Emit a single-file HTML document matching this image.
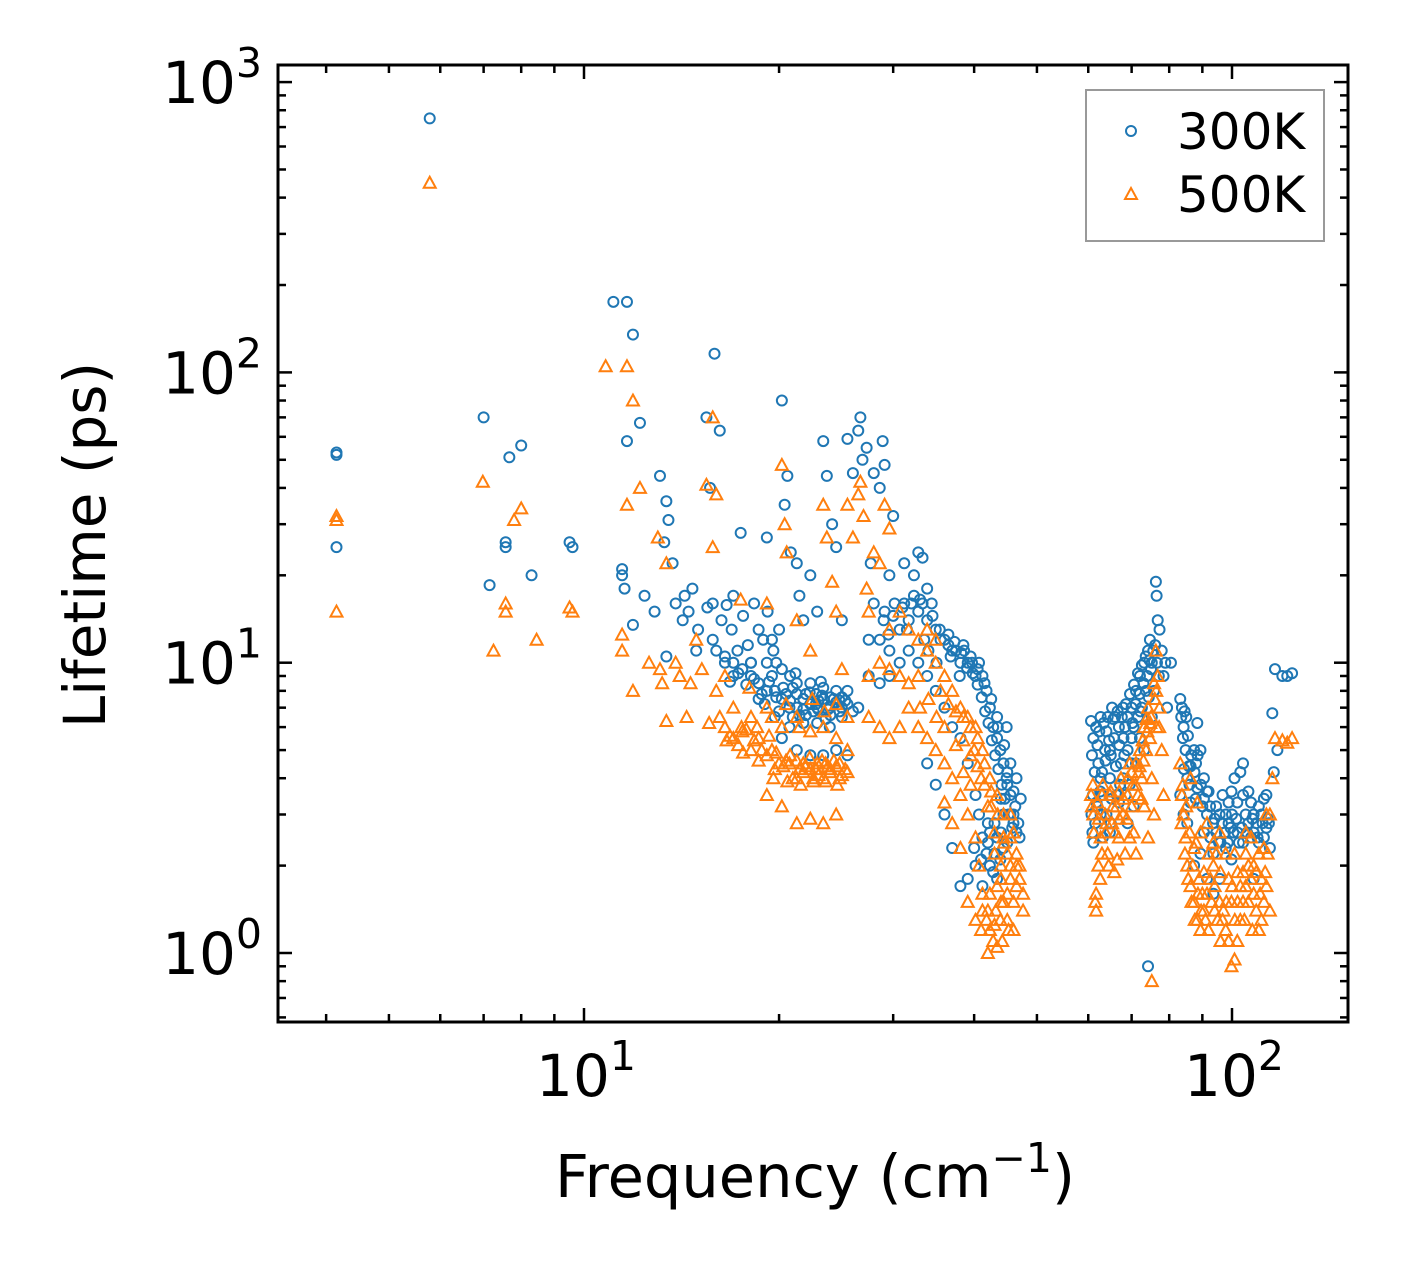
<!DOCTYPE html>
<html><head><meta charset="utf-8">
<style>
html,body{margin:0;padding:0;background:#fff;}
svg{display:block;font-family:"DejaVu Sans","Liberation Sans",sans-serif;}
</style></head>
<body>
<svg id="chart" width="1408" height="1271" viewBox="0 0 1408 1271" xmlns="http://www.w3.org/2000/svg">
<rect x="0" y="0" width="1408" height="1271" fill="#fff"/>
<g id="marks"></g>
<g id="axes"></g>
<g>
<rect x="1086" y="90" width="238" height="151" fill="#fff" stroke="#999" stroke-width="2"/>
<circle cx="1131" cy="131" r="5" fill="none" stroke="#1f77b4" stroke-width="2"/>
<text x="1177" y="149" font-size="50">300K</text>
<polygon points="1131,188 1137,199 1125,199" fill="none" stroke="#ff7f0e" stroke-width="2"/>
<text x="1177" y="212" font-size="50">500K</text>
</g>
<text x="815" y="1197" font-size="59" text-anchor="middle">Frequency (cm<tspan dy="-25" font-size="41">−1</tspan><tspan dy="25">)</tspan></text>
<text transform="translate(105,545) rotate(-90)" font-size="58" text-anchor="middle">Lifetime (ps)</text>
</svg>
<script>
const xTicks = [10, 100];
const yTicks = [1, 10, 100, 1000];
const xTickLabels = ["1", "2"];
const yTickLabels = ["0", "1", "2", "3"];
const data300 = [
[4.15,53],[4.15,52],[4.15,25],[5.78,750],[7.0,70],[7.15,18.5],[7.57,26],[7.57,25],[7.67,51],[8.0,56],[8.3,20],[9.5,26],[9.6,25],
[11.1,175],[11.65,175],[11.9,135],[11.45,21],[11.45,20],[11.55,18],[11.9,13.5],[11.65,58],[12.2,67],[12.4,17],[12.85,15],[13.1,44],
[13.4,36],[13.5,31],[13.4,10.5],[13.3,26],[13.7,22],[13.85,16],[14.3,17],[14.5,15],[14.7,18],[14.9,11],[15.45,70],[15.65,40],[15.9,116],
[15.8,16],[16.2,63],[16.3,14],[16.5,10],[17,17],[17.25,11],[17.45,28],[18.1,10],[18.6,13],[19.15,27],[19.5,12],[19.8,10],[20.2,80],
[20.4,35],[20.6,44],[20.85,24],[21.3,22],[21.5,17],[21.8,14],[22.35,20],[22.9,15],[23.4,58],[23.7,44],[24.15,30],[24.5,25],[25,14],
[25.5,59],[26,45],[26.5,63],[26.7,70],[26.9,50],[27.3,55],[27.7,22],[28,45],[28.6,40],[28.9,58],[29.1,48],[29.6,20],[30,32],[31.2,22],
[32.3,20],[32.8,24],[33.3,23],[33.85,18],
[16,11],[16.5,10.5],[17,10],[17.55,9.5],[18.1,9],[18.6,8.5],[19.15,8],[19.7,8],[20.2,7.5],[20.75,7],[21.3,7],[21.8,7.5],[22.35,7.2],[22.9,7],
[23.4,7.5],[23.95,7],[24.5,7.3],[25,7],[25.5,7.2],[26,6.8],[26.5,7],[17,9],[18.1,10],[19.15,10],[20.2,9.5],[21.3,8.5],[22.35,8.5],[23.4,8.2],
[24.5,8],[25.5,8],[18.6,7.5],[19.7,6.5],[20.75,6],[21.8,6.2],[22.9,6.2],[23.95,6],[25,6.5],[20.2,5.5],[21.3,5],[22.35,4.8],[23.4,4.8],[24.5,5],[25.5,4.8],
[20.5,7.8],[21,8.2],[22,7.8],[23,7.4],[24,7.6],[24.8,7.4],[21.5,6.6],[22.6,6.8],[23.6,6.4],[19.5,9],[20.8,9],[22.8,7.8],
[16.8,8.6],[17.3,9.2],[17.8,8.4],[18.3,8.8],[18.8,7.8],[19.3,8.6],[19.8,7.6],[20.3,8.2],[20.8,7.4],[21.3,7.8],[21.8,6.9],[22.3,7.9],[22.8,7.2],
[23.3,7.7],[23.8,6.9],[24.3,7.5],[24.8,6.8],[25.3,7.4],[19,7.2],[20,6.8],[21,6.5],[22,6.6],[23,6.9],[24,6.6],[25,7.6],[21.2,9.2],[23.2,8.6],
[14.2,14],[15,13],[15.5,15.5],[16.6,15.8],[17.6,14.5],[18.3,16],[19.2,15],[20,13],[19.6,11],[18.9,12],[15.8,12],[17.9,11.5],[16.9,13],
[27.5,12],[28.6,12],[29.6,11],[30.7,13],[31.7,14],[32.8,15],[33.85,14],[34.9,13],[36,12],[37,11],[38.1,10],[39.1,10],[40.2,9],
[28,16],[29.1,15],[30.15,16],[31.2,16],[32.3,17],[33.3,16],[34.4,16],[35.4,13],[36.5,12.5],[37.5,11],[38.6,11],[39.7,10],[40.7,10],
[41.2,9],[41.8,8],[42.3,7],[42.8,6],[43.4,5.5],[43.9,5],[44.4,4.5],[44.9,4],[45.5,3.5],[46,3],[46.5,2.6],[47,2.5],
[27.5,9],[28.6,8.5],[29.6,9],[30.7,10],[31.7,11],[32.8,10],[33.85,9],[34.9,8],[36,7],[37,6],[38.1,5.5],[39.1,4.5],[40.2,3.5],[40.7,3],
[41.2,2.5],[41.8,2.2],[42.3,2],[42.8,1.9],[43.4,1.8],[43.9,2.1],[44.4,2.3],[45.5,3],[46.5,4],[42.3,2.6],[43.4,2.5],[44.4,3],[45.5,4.5],
[44.9,6],[43.4,6.5],[33.85,4.5],[34.9,3.8],[36,3],[37,2.3],[38.1,1.7],[39.1,1.8],[40.2,2],[41.2,1.7],
[38.5,11.5],[39.5,10.5],[40.5,9.5],[41.5,8.5],[42.5,7.5],[43.5,6],[44.5,5.2],[45,4.2],[46,3.6],[42,2.8],[43,2.2],[44,2.6],[45,2.4],[46,2.8],
[35.5,12],[36.8,10.5],[38,9],[34,11],[35,10],
[36.5,11.5],[37.3,11.8],[38.2,10.8],[39,9.6],[39.8,9.2],[40.5,8.4],[41.1,7.6],[41.6,6.8],[42.1,6.2],[42.6,5.4],[43.1,4.8],[43.6,4.3],
[44.1,3.8],[44.6,3.4],[45.2,3.0],[45.8,2.7],[46.3,3.2],[46.8,2.8],[47.2,3.4],[29,14],[30,14.5],[31,15.5],[32,16],[33,16.5],[34.5,14.5],
[29.5,12.5],[31.5,13],[33.5,12],[40,2.3],[41,2.1],[42,2.4],[43,2.8],[44,3.4],[45,3.8],
[60.6,6.3],[61.1,5.5],[61.7,6],[62.2,4.5],[62.7,6.5],[62.7,3],[63.2,2.5],[63.7,5],[64.3,6.5],[64.8,4],[65.3,7],[65.8,5.5],[66.4,3.5],
[66.9,6],[67.4,4.5],[67.9,7],[68.4,6],[69,5],[69.5,3.8],[70,7],[70.5,6],[71.1,8],[71.6,6.5],[72.1,9],[72.6,7],[73.2,10],[73.7,8],
[74.2,11],[74.7,12],[75.2,10],[75.8,8],[76.3,19],[76.5,17],[76.8,14],[77.3,13],[77.9,11],[78.4,9],[78.9,10],[79.4,7],[80.5,10],
[74.2,0.9],[71.1,4.5],[69,2.8],[64.8,2.6],[66.9,3.3],[73.2,5],[75.2,6.5],[61.1,2.4],[62.7,4],[64.8,5],[67.9,4],[70,4.5],[72.1,5.5],
[61,3.5],[62,5.2],[63,4.2],[64,5.8],[65,4.8],[66,6.5],[67,5.2],[68,5.5],[69,6.5],[70,5.5],[71,7.2],[72,7.8],[73,8.5],[74,9],[75,9.5],
[62,3.2],[63,3.5],[64,3],[65,2.8],[61.5,2.8],[68.5,3.5],[70.5,3.2],
[60.8,4.8],[61.4,4.2],[62.4,5.8],[63.4,6.2],[64.6,5.4],[65.6,6.4],[66.6,6.8],[67.6,6.5],[68.6,7.2],[69.6,7.8],[70.6,8.4],[71.6,9.2],
[72.6,9.8],[73.6,10.5],[74.6,10.2],[75.6,11],[76.1,11.5],[76.6,10],[77.1,9],[63.8,4.6],[66.2,4.4],[68.2,4.8],[70.2,6.2],[72.2,6.8],
[74.4,7.6],[62.6,3.6],[65.2,3.4],[67.2,3.8],[61.8,3.3],[60.7,3.0],[60.9,2.6],
[83.2,7.5],[83.7,7],[84.2,6],[84.8,5],[85.3,4],[83.2,3.5],[84.2,3],[85.3,2.8],[86.3,3.3],[87.4,5],[88.4,6.2],[89.4,5],[90.5,4],[91.5,3],
[92.6,2.5],[93.6,2.2],[94.6,2.6],[95.7,3],[96.7,3.5],[97.8,3],[98.8,2.8],[99.8,3.6],[100.9,4],[101.9,3.3],[103,4.2],[104,4.5],[105,3],
[106,2.8],[107,2.5],[108,2.6],[109,2.8],[110,2.4],[111,3],[112,2.5],[113,2.7],[114.4,2.3],[115.4,6.7],[116.5,9.5],[117.5,5],[119.6,9],
[121.7,9],[123.8,9.2],[87.4,2],[89.4,2.2],[91.5,1.8],[93.6,1.6],[95.7,1.8],[97.8,2.3],[99.8,2.1],[104,2.4],[108,1.8],[90.5,2.6],
[86.3,4.4],[88.4,3.7],[98.8,3.3],[107,3.3],[113,3.5],[84,5.5],[85,6.5],[86,3.8],[88,4.5],[90,3.2],[92,3.6],[94,2.9],[96,2.4],[100,3],
[102,2.6],[104,3.5],[106,3.6],[108,3],[110,3.2],[112,3.4],[114,2.8],[116,4.2],
[83.5,6.5],[84.5,6.8],[85.5,5.6],[86.5,4.8],[87.5,4.2],[88.5,4.8],[89.5,3.8],[90.5,3.4],[91.5,3.6],[92.5,3.2],[93.5,2.8],[94.5,3.2],
[95.5,2.4],[96.5,2.8],[97.5,2.6],[98.5,2.4],[99.5,2.7],[100.5,2.6],[101.5,2.9],[102.5,2.4],[103.5,2.7],[105.5,2.6],[107.5,2.9],
[109.5,2.5],[111.5,2.8],[113.5,2.9],[84.3,4.3],[85.8,4.4],[87.9,3.4]
];
const data500 = [
[4.15,32],[4.15,31],[4.15,15],[5.78,450],[6.98,42],[7.25,11],[7.57,16],[7.57,15],[7.8,31],[8.0,34],[8.45,12],[9.5,15.5],[9.6,15],
[10.8,105],[11.65,105],[11.9,80],[11.45,12.5],[11.45,11],[11.65,35],[11.9,8],[12.2,40],[12.6,10],[13.0,27],[13.1,9.5],[13.2,8.5],[13.4,22],
[13.4,6.3],[13.85,10],[14.05,9],[14.4,6.5],[14.9,12],[15.45,41],[15.8,25],[15.8,70],[16,38],[16.2,6.5],[16.5,9],[16.5,6],[17,5.5],
[17.45,16.5],[17.55,5.8],[18.1,5],[18.6,5.5],[19.15,16],[19.15,4.8],[19.7,4.3],[20.2,48],[20.4,30],[20.55,24],[20.75,4.5],[21.3,4],
[21.8,4.2],[22.35,4.3],[22.9,4.5],[23.4,4],[23.95,4.2],[24.5,4.4],[25,4.1],[25.5,4.2],[19.15,3.5],[20.2,3.2],[21.3,2.8],[22.35,2.9],
[23.4,2.8],[24.5,3],[18.1,6.5],[19.15,7],[20.2,6],[21.3,6.5],[22.35,5.8],[23.4,6],[24.5,5.5],[25.5,5],[21.3,14],[22.35,11],[23.4,35],
[23.7,27],[24.15,19],[24.5,15],[25,9.5],[25.5,35],[26,27],[26.5,38],[26.7,42],[27,32],[27.3,18],[27.5,15],[28,24],[28.6,22],[29.1,35],
[29.6,29],
[20.5,4.6],[21,4.0],[22,4.4],[23,4.1],[24,4.3],[24.8,4.0],[21.5,4.3],[22.6,3.9],[23.6,4.5],[19.5,5.0],[20,4.5],[18.5,6.0],[17.5,6.0],
[16.8,5.6],[17.3,5.2],[17.8,5.9],[18.3,5.4],[18.8,5.0],[19.3,5.6],[19.8,4.9],[20.3,4.4],[20.8,4.8],[21.3,4.6],[21.8,4.5],[22.3,4.7],
[22.8,4.3],[23.3,4.6],[23.8,4.4],[24.3,4.6],[24.8,4.5],[25.3,4.3],[20.6,3.9],[21.6,3.8],[22.6,4.0],[23.6,3.9],[24.6,3.8],[19.6,4.0],
[18.6,4.6],[17.6,4.9],[16.6,5.4],[15.6,6.2],[14.6,8.5],[15.2,9.5],[16,8],[17,7],[18,8.2],[19.5,6.5],[20.5,7.2],[21.5,6],[22.5,7.5],[23.5,6.8],[24.5,7.2],[25.5,6.5],
[27.5,9],[28.6,10],[29.6,9.5],[30.7,9],[31.7,8.5],[32.8,9],[33.85,11],[34.9,10],[36,9],[37,8],[38.1,7],[39.1,6.5],[40.2,6],[41.2,5],
[42.3,4],[43.4,3.5],[44.4,3],[45.5,2.5],[46.5,2],[47.6,1.6],[27.5,6.5],[28.6,6],[29.6,5.5],[30.7,6],[31.7,7],[32.8,6],[33.85,5.5],
[34.9,5],[36,4.5],[37,4],[38.1,3.5],[39.1,3],[40.2,2.5],[40.7,2],[41.2,1.6],[41.8,1.3],[42.3,1.2],[42.8,1.1],[43.4,1.05],[43.9,1.3],
[44.4,1.5],[45.5,1.8],[46.5,2.2],[47.6,1.4],[39.1,1.5],[40.2,1.3],[41.2,1.4],[42.3,1.6],[43.4,1.7],[44.4,2.5],[45.5,3],[38.1,2.3],
[37,2.8],[36,3.3],[31.7,13],[32.8,12],[33.85,13],[34.9,12],[36,6],[30.7,15],[29.6,13],
[38.5,6.5],[39.5,6],[40.5,5.5],[41.5,4.5],[42.5,3.6],[43.5,3.0],[44.5,2.4],[45.5,2.0],[46.5,1.7],[42,1.4],[43,1.25],[44,1.5],[45,1.6],[46,1.5],
[40,5],[41,4],[42,3.2],[43,2.6],[44,2],[45,2.2],[46,2.6],[47,2.0],
[35.5,8],[36.5,7.2],[37.5,6.8],[38.5,5.4],[39.5,4.8],[40.5,4.4],[41.5,3.8],[42.5,3.2],[43,2.2],[44,1.8],[45,1.3],[46,1.2],[47,1.8],
[41,1.2],[42,1.0],[43.2,1.4],[44.2,1.1],[45.2,1.2],[33,7],[34,7.5],[35,6.5],[37.5,5.2],[38.5,4.2],[39.5,3.8],
[60.6,3.5],[61.1,3],[61.7,1.6],[61.7,1.4],[62.2,2],[62.7,2.5],[63.2,3.8],[63.7,3],[64.3,2.2],[64.8,3.5],[65.3,2.8],[65.8,1.9],[66.4,3.2],
[66.9,2.5],[67.4,4],[67.9,3],[68.4,2.2],[69,3.5],[69.5,4.5],[70,3.2],[70.5,2.6],[71.1,4.5],[71.6,3.5],[72.1,5],[72.6,4],[73.2,6],[73.7,5],
[74.2,7],[74.7,5.5],[75.2,4],[75.8,3],[76.3,11],[76.8,9],[77.3,7],[77.9,5],[78.4,3.5],[75.2,0.8],[74.2,2.5],[73.2,3.2],[71.1,2.2],
[61,3.8],[62,3.3],[63,3.5],[64,2.8],[65,3.6],[66,2.6],[67,3.6],[68,3.4],[69,4.0],[70,4.2],[71,3.8],[72,4.4],[73,4.6],[74,5.8],[75,6.5],
[76,7.5],[76.5,6],[61.5,1.5],[63,2.2],
[60.8,3.2],[62.3,2.9],[63.8,2.6],[65.5,3.2],[67,2.9],[68.8,2.9],[70.3,3.8],[71.8,4.2],[72.8,5.4],[73.8,6.4],[74.8,6.2],[75.8,8.5],
[76.4,8],[77.2,6],[64.5,2.0],[66.5,2.1],[69.5,2.5],[72.5,3.4],[61.2,2.6],[62.6,1.8],
[83.2,4.5],[83.7,3.5],[84.2,3],[84.8,2.5],[85.3,2],[86.3,1.7],[87.4,1.5],[88.4,1.3],[89.4,1.2],[90.5,1.4],[91.5,1.6],[92.6,1.8],[93.6,2],
[94.6,2.2],[95.7,1.5],[96.7,1.3],[97.8,1.2],[98.8,1.1],[99.8,0.9],[100.9,0.95],[101.9,1.1],[103,1.3],[104,1.5],[105,1.7],[106,2],[107,1.8],
[108,1.6],[109,1.4],[110,1.2],[111,1.3],[112,1.5],[113,1.7],[114.4,1.4],[115.4,4],[116.5,5.5],[119.6,5.4],[121.7,5.3],[123.8,5.5],
[86.3,4],[88.4,3.3],[89.4,2.6],[91.5,2.8],[93.6,2.4],[95.7,2.6],[98.8,1.8],[100.9,2.2],[104,1.9],[107,2.5],[110,2.2],[113,3],[114.4,3],
[87.4,2.3],[90.5,1.9],[97.8,2.2],[103,1.7],[111,1.8],[99.8,1.5],
[84,3.8],[85,3.2],[86,2.6],[87,2.0],[88,2.4],[89,1.8],[90,1.6],[92,2.2],[94,1.7],[96,1.9],[100,1.7],[102,1.9],[105,2.2],[108,2.0],[112,2.3],
[83.6,2.8],[84.6,2.2],[85.6,1.8],[86.6,1.5],[87.6,1.3],[88.6,1.6],[89.6,1.4],[91,1.3],[92,1.2],[93,1.5],[94,1.4],[95,1.3],[96,1.1],
[97,1.4],[98,1.5],[101,1.3],[102,1.5],[104.5,1.3],[106,1.5],[107.5,1.2],[109,1.9],[110.5,1.6],[112.5,1.9],[113.5,2.2],[105,2.6]
];
</script>
<script>
const NS = "http://www.w3.org/2000/svg";
const L = 278, R = 1348, T = 65, B = 1022;
const X10 = 584, XDEC = 648;
const Y1 = 953, YDEC = 290.3;
function xs(f){ return X10 + (Math.log10(f) - 1) * XDEC; }
function ys(v){ return Y1 - Math.log10(v) * YDEC; }
const marks = document.getElementById('marks');
const axes = document.getElementById('axes');
function mk(tag, attrs, parent){
  const el = document.createElementNS(NS, tag);
  for (const k in attrs) el.setAttribute(k, attrs[k]);
  parent.appendChild(el);
  return el;
}
data300.forEach(function(p){
  const c = mk('circle', {cx: xs(p[0]), cy: ys(p[1]), r: 5, fill: 'none', stroke: '#1f77b4', 'stroke-width': 2}, marks);
  
  
});
data500.forEach(function(p){
  const x = xs(p[0]), y = ys(p[1]);
  const t = mk('polygon', {points: x + ',' + (y - 6) + ' ' + (x + 6) + ',' + (y + 5) + ' ' + (x - 6) + ',' + (y + 5), fill: 'none', stroke: '#ff7f0e', 'stroke-width': 2}, marks);
  
  
});
const fr = mk('rect', {x: L, y: T, width: R - L, height: B - T, fill: 'none', stroke: '#000', 'stroke-width': 3}, axes);


for (let d = 0; d <= 2; d++){
  for (let m = 1; m <= 9; m++){
    const f = m * Math.pow(10, d);
    const x = xs(f);
    if (x < L + 1 || x > R - 1) continue;
    const len = m === 1 ? 14 : 8;
    const a = mk('line', {x1: x, x2: x, y1: B, y2: B - len, stroke: '#000', 'stroke-width': 2.5}, axes);
    
    
    const b = mk('line', {x1: x, x2: x, y1: T, y2: T + len, stroke: '#000', 'stroke-width': 2.5}, axes);
    
    
  }
}
for (let d = -1; d <= 3; d++){
  for (let m = 1; m <= 9; m++){
    const v = m * Math.pow(10, d);
    const y = ys(v);
    if (y < T + 1 || y > B - 1) continue;
    const len = m === 1 ? 14 : 8;
    const a = mk('line', {x1: L, x2: L + len, y1: y, y2: y, stroke: '#000', 'stroke-width': 2.5}, axes);
    
    
    const b = mk('line', {x1: R, x2: R - len, y1: y, y2: y, stroke: '#000', 'stroke-width': 2.5}, axes);
    
    
  }
}
xTicks.forEach(function(v, i){
  const t = mk('text', {x: xs(v) + 2, y: B + 74, 'font-size': 58, 'text-anchor': 'middle'}, axes);
  
  
  t.textContent = '10';
  const s = mk('tspan', {dy: -26, 'font-size': 41}, t);
  s.textContent = xTickLabels[i];
});
yTicks.forEach(function(v, i){
  const t = mk('text', {x: 262, y: ys(v) + 21, 'font-size': 58, 'text-anchor': 'end'}, axes);
  
  
  t.textContent = '10';
  const s = mk('tspan', {dy: -26, 'font-size': 41}, t);
  s.textContent = yTickLabels[i];
});
</script>
</body></html>
